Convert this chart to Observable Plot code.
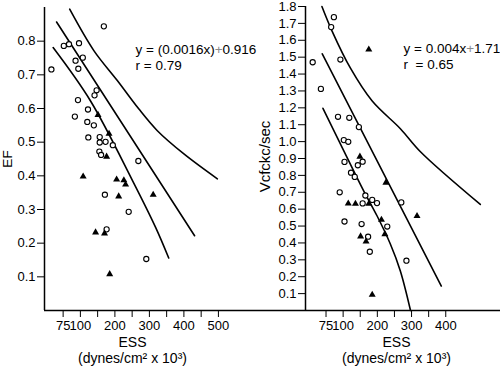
<!DOCTYPE html>
<html><head><meta charset="utf-8">
<script src="https://cdn.jsdelivr.net/npm/d3@7"></script>
<script src="https://cdn.jsdelivr.net/npm/@observablehq/plot@0.6"></script>
<style>
body{margin:0;background:#fff;}
#wrap{position:relative;width:500px;height:370px;background:#fff;overflow:hidden;}
#wrap svg{position:absolute;top:0;}
</style></head><body><div id="wrap"></div>
<script>
// ---------- Left panel: EF vs ESS ----------
const efOpen = [[16,0.716],[52,0.786],[67,0.791],[96,0.794],[168,0.844],[86,0.742],[107,0.751],[94,0.718],[147,0.654],[141,0.639],[93,0.625],[122,0.597],[84,0.576],[120,0.560],[139,0.550],[123,0.514],[156,0.515],[156,0.499],[173,0.501],[194,0.491],[155,0.472],[160,0.462],[268,0.444],[171,0.344],[240,0.293],[176,0.241],[291,0.153]];
const efFilled = [[151,0.581],[183,0.525],[176,0.457],[108,0.398],[205,0.389],[226,0.387],[231,0.374],[211,0.339],[311,0.344],[144,0.232],[170,0.229],[185,0.108]];
const efUpper = [[69,0.895],[139,0.772],[207,0.683],[269,0.599],[323,0.534],[400,0.465],[497,0.391]];
const efFit = [[31,0.857],[431,0.222]];
const efLower = [[21,0.781],[129,0.623],[251,0.386],[318,0.247],[356,0.156]];
const efXTicks = [50,100,150,200,250,300,350,400,450,500];
const efXLabelAt = [50,100,200,300,400,500];
const efXLabels = ["75","100","200","300","400","500"];
const efYTicks = [0.1,0.2,0.3,0.4,0.5,0.6,0.7,0.8];
const efEq = "y = (0.0016x)+0.916";
const efR = "r = 0.79";
const efYLabel = "EF";

// ---------- Right panel: Vcfc vs ESS ----------
const vOpen = [[11,1.47],[35,1.312],[65,1.678],[73,1.737],[92,1.486],[85,1.147],[118,1.141],[146,1.086],[102,1.009],[115,0.999],[104,0.88],[157,0.881],[143,0.86],[123,0.816],[134,0.791],[90,0.700],[165,0.681],[157,0.634],[185,0.655],[199,0.636],[270,0.640],[104,0.527],[154,0.512],[173,0.437],[229,0.497],[178,0.348],[285,0.295]];
const vFilled = [[175,1.545],[149,0.911],[225,0.757],[115,0.634],[136,0.632],[175,0.632],[212,0.537],[316,0.560],[151,0.439],[167,0.409],[222,0.452],[185,0.093]];
const vUpper = [[38,1.80],[68,1.653],[121,1.436],[185,1.24],[268,1.075],[326,0.94],[501,0.628]];
const vFit = [[39,1.52],[387,0.145]];
const vLower = [[41,1.197],[102,0.945],[160,0.708],[199,0.561],[238,0.394],[267,0.236],[297,0.0]];
const vXTicks = [50,100,150,200,250,300,350,400];
const vXLabelAt = [50,100,200,300,400];
const vXLabels = ["75","100","200","300","400"];
const vYTicks = [0.1,0.2,0.3,0.4,0.5,0.6,0.7,0.8,0.9,1.0,1.1,1.2,1.3,1.4,1.5,1.6,1.7,1.8];
const vEq = "y = 0.004x+1.71";
const vR = "r  = 0.65";
const vYLabel = "Vcfckc/sec";

const xTitle = "ESS";
const xUnits = "(dynes/cm² x 10³)";

const FONT = "'Liberation Sans', Arial, Helvetica, sans-serif";
const X = d => d[0], Y = d => d[1];
const labelFmt = (at, labels) => v => { const i = at.indexOf(v); return i >= 0 ? labels[i] : ""; };

function panel(cfg) {
  const svg = Plot.plot({
    width: 250, height: 370,
    marginLeft: cfg.ml, marginRight: 0, marginTop: cfg.mt, marginBottom: 60,
    style: {fontFamily: FONT, fontSize: "13px", background: "transparent", color: "black", overflow: "visible"},
    x: {domain: cfg.xDomain, ticks: cfg.xTicks, tickFormat: labelFmt(cfg.xLabelAt, cfg.xLabels), tickSize: 7, tickPadding: 3, label: null},
    y: {domain: cfg.yDomain, ticks: cfg.yTicks, tickFormat: d => d.toFixed(1), tickSize: 7, tickPadding: 2, label: null},
    marks: [
      Plot.ruleY([0], {strokeWidth: 1.5, insetLeft: cfg.ruleInset}),
      Plot.ruleX([cfg.xDomain[0]], {strokeWidth: 1.5}),
      Plot.line(cfg.upper, {x: X, y: Y, curve: "catmull-rom", strokeWidth: 1.6}),
      Plot.line(cfg.fit, {x: X, y: Y, strokeWidth: 1.6}),
      Plot.line(cfg.lower, {x: X, y: Y, curve: "catmull-rom", strokeWidth: 1.6}),
      Plot.dot(cfg.open, {x: X, y: Y, r: 2.6, stroke: "black", fill: "white", strokeWidth: 1.1}),
      Plot.dot(cfg.filled, {x: X, y: Y, r: 2.6, symbol: "triangle", fill: "black", stroke: "none"}),
      Plot.text([cfg.eq], {frameAnchor: "top-left", dx: cfg.annDx, dy: cfg.annDy, textAnchor: "start", fontSize: 13.5, fill: "black"}),
      Plot.text([cfg.r], {frameAnchor: "top-left", dx: cfg.annDx, dy: cfg.annDy + 16, textAnchor: "start", fontSize: 13.5, fill: "black"}),
      Plot.text([cfg.yLabel], {frameAnchor: "left", dx: cfg.ylDx, dy: cfg.ylDy, rotate: -90, textAnchor: "middle", fontSize: cfg.ylSize, fill: "black"}),
      Plot.text([xTitle], {frameAnchor: "bottom-left", dx: cfg.xlDx, dy: 36, textAnchor: "middle", fontSize: 14, fill: "black"}),
      Plot.text([xUnits], {frameAnchor: "bottom-left", dx: cfg.xlDx, dy: 52, textAnchor: "middle", fontSize: 14, fill: "black"})
    ]
  });
  svg.style.left = cfg.left + "px";
  svg.style.zIndex = cfg.z;
  // grey plus sign inside the equation
  svg.querySelectorAll("text").forEach(t => {
    if (t.textContent === cfg.eq) {
      const parts = cfg.eq.split("+");
      t.textContent = "";
      const ns = "http://www.w3.org/2000/svg";
      const a = document.createElementNS(ns, "tspan"); a.textContent = parts[0];
      const p = document.createElementNS(ns, "tspan"); p.textContent = "+"; p.setAttribute("fill", "#8a8a8a");
      const b = document.createElementNS(ns, "tspan"); b.textContent = parts[1];
      t.append(a, p, b);
    }
  });
  return svg;
}

const wrap = document.getElementById("wrap");
wrap.append(panel({
  left: 0, z: 2, ml: 44, mt: 7, xDomain: [-4, 593], yDomain: [0, 0.9],
  xTicks: efXTicks, xLabelAt: efXLabelAt, xLabels: efXLabels, yTicks: efYTicks,
  open: efOpen, filled: efFilled, upper: efUpper, fit: efFit, lower: efLower,
  eq: efEq, r: efR, annDx: 91, annDy: 37, yLabel: efYLabel, ylDx: -37, ylDy: 0, ylSize: 13.5,
  xlDx: 88, ruleInset: 0
}));
wrap.append(panel({
  left: 250, z: 1, ml: 55, mt: 6, xDomain: [-10, 560], yDomain: [0, 1.8],
  xTicks: vXTicks, xLabelAt: vXLabelAt, xLabels: vXLabels, yTicks: vYTicks,
  open: vOpen, filled: vFilled, upper: vUpper, fit: vFit, lower: vLower,
  eq: vEq, r: vR, annDx: 98, annDy: 37, yLabel: vYLabel, ylDx: -40, ylDy: -2, ylSize: 15,
  xlDx: 91, ruleInset: -55
}));
</script></body></html>
